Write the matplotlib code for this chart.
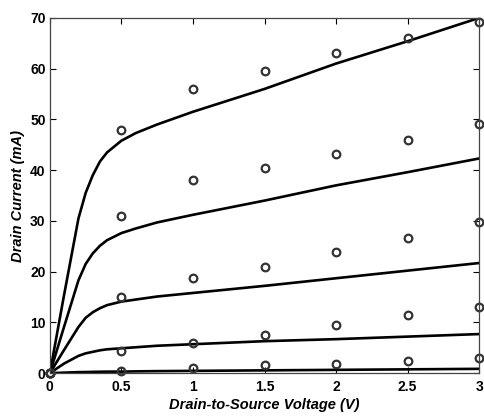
import matplotlib.pyplot as plt

plt.rcParams['font.family'] = ['Liberation Sans', 'DejaVu Sans']

# measured points (circles)
vds_meas = [0, 0.5, 1, 1.5, 2, 2.5, 3]
meas_1 = [0, 48.0, 56.0, 59.5, 63.0, 66.0, 69.2]
meas_2 = [0, 31.0, 38.0, 40.5, 43.1, 46.0, 49.1]
meas_3 = [0, 15.0, 18.7, 20.9, 23.8, 26.7, 29.8]
meas_4 = [0, 4.4, 6.0, 7.6, 9.4, 11.5, 13.1]
meas_5 = [0, 0.5, 1.0, 1.6, 1.8, 2.4, 2.9]

# model curves (lines)
vds_model = [0, 0.1, 0.2, 0.25, 0.3, 0.35, 0.4, 0.5, 0.6, 0.75, 1, 1.5, 2, 2.5, 3]
model_1 = [0, 15.5, 30.5, 35.5, 39.0, 41.7, 43.5, 45.8, 47.3, 49.0, 51.5, 56.0, 61.0, 65.4, 70.0]
model_2 = [0, 9.2, 18.3, 21.5, 23.6, 25.1, 26.2, 27.6, 28.5, 29.7, 31.2, 34.0, 37.0, 39.6, 42.3]
model_3 = [0, 4.6, 9.1, 10.9, 12.0, 12.8, 13.4, 14.1, 14.5, 15.1, 15.8, 17.2, 18.7, 20.2, 21.7]
model_4 = [0, 1.9, 3.4, 3.9, 4.2, 4.5, 4.7, 4.9, 5.1, 5.4, 5.7, 6.3, 6.7, 7.2, 7.7]
model_5 = [0, 0.1, 0.2, 0.22, 0.25, 0.28, 0.3, 0.3, 0.35, 0.4, 0.45, 0.55, 0.65, 0.75, 0.85]

fig = plt.figure(figsize=(4.84, 4.16), dpi=100)
ax = fig.add_axes([0.103, 0.103, 0.887, 0.854])

for y in [model_1, model_2, model_3, model_4, model_5]:
    ax.plot(vds_model, y, color='black', linewidth=1.9)

for y in [meas_1, meas_2, meas_3, meas_4, meas_5]:
    ax.plot(vds_meas, y, linestyle='none', marker='o', markersize=5.5,
            markerfacecolor='none', markeredgecolor='#333333',
            markeredgewidth=1.6, clip_on=False)

ax.set_xlim(0, 3)
ax.set_ylim(0, 70)
ax.set_xticks([0, 0.5, 1, 1.5, 2, 2.5, 3])
ax.set_xticklabels(['0', '0.5', '1', '1.5', '2', '2.5', '3'])
ax.set_yticks(range(0, 71, 10))
ax.tick_params(direction='in', top=True, right=True, length=4, width=0.8,
               labelsize=10)
ax.tick_params(axis='x', pad=5)
ax.tick_params(axis='y', pad=3)
for lab in ax.get_xticklabels() + ax.get_yticklabels():
    lab.set_fontweight('bold')
for s in ax.spines.values():
    s.set_linewidth(0.9)
    s.set_color('#444444')

ax.set_xlabel('Drain-to-Source Voltage (V)', fontsize=10.5, fontweight='bold',
              fontstyle='italic', labelpad=3)
ax.set_ylabel('Drain Current (mA)', fontsize=10.5, fontweight='bold',
              fontstyle='italic', labelpad=4)

fig.savefig('out.png', dpi=100)
